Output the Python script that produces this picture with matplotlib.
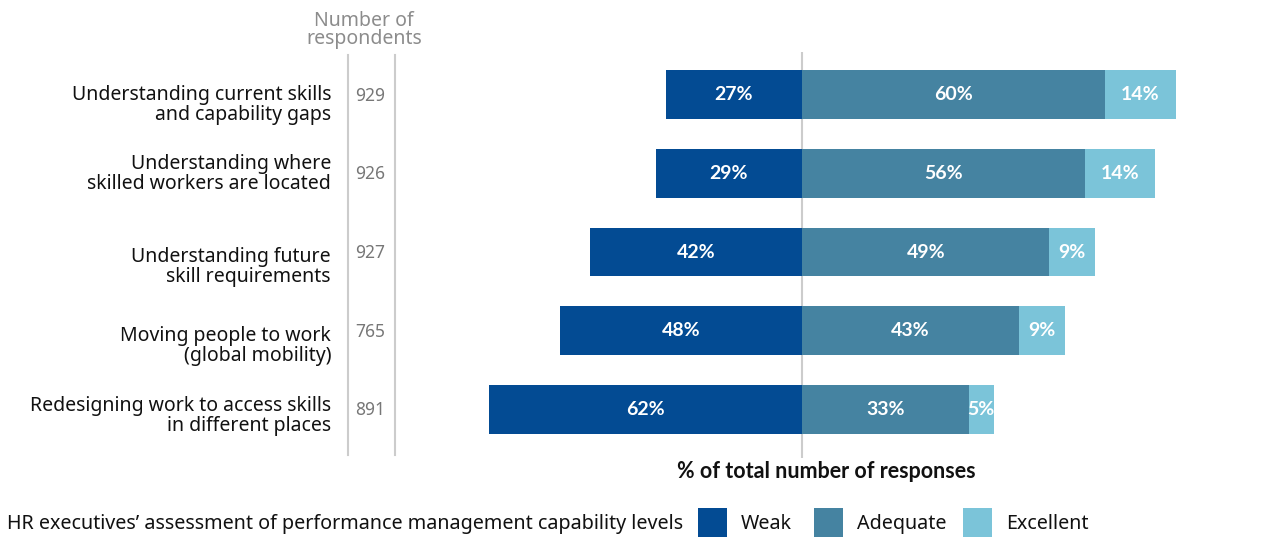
import numpy as np
import matplotlib
matplotlib.use('Agg')
import matplotlib.pyplot as plt
from matplotlib.patches import Rectangle

plt.rcParams['font.family'] = ['Noto Sans', 'DejaVu Sans']
bold_font = ['Lato', 'DejaVu Sans']

categories = ['Understanding current skills\nand capability gaps',
              'Understanding where\nskilled workers are located',
              'Understanding future\nskill requirements',
              'Moving people to work\n(global mobility)',
              'Redesigning work to access skills\nin different places']
respondents = [929, 926, 927, 765, 891]
weak = [27, 29, 42, 48, 62]
adequate = [60, 56, 49, 43, 33]
excellent = [14, 14, 9, 9, 5]

c_weak = '#034b93'
c_adeq = '#4583a1'
c_exc = '#7bc4d9'
grey = '#8c8c8c'
line_grey = '#cccccc'

W, H = 1261, 539
fig = plt.figure(figsize=(W / 100, H / 100), dpi=100)

# axes: pixel 402..1261 horizontally, 52..458 vertically
ax = fig.add_axes([402 / W, 1 - 458 / H, (W - 402) / W, 406 / H])
ax.set_xlim(-79.2, 90.9)
ax.set_ylim(4.616, -0.54)
ax.axis('off')

y = np.arange(len(categories))
h = 0.62
weak_a = np.array(weak)
adeq_a = np.array(adequate)
exc_a = np.array(excellent)

ax.barh(y, -weak_a, height=h, color=c_weak, zorder=2)
ax.barh(y, adeq_a, height=h, color=c_adeq, zorder=2)
ax.barh(y, exc_a, left=adeq_a, height=h, color=c_exc, zorder=2)
ax.axvline(0, color=line_grey, lw=1.5, zorder=1)

lab = dict(color='white', fontsize=14, fontweight='bold', family=bold_font,
           ha='center', va='center', zorder=3)
for i in range(len(y)):
    ax.text(-weak_a[i] / 2, y[i], f'{weak[i]}%', **lab)
    ax.text(adeq_a[i] / 2, y[i], f'{adequate[i]}%', **lab)
    ax.text(adeq_a[i] + exc_a[i] / 2, y[i], f'{excellent[i]}%', **lab)

# left columns: category labels, respondents count, separator lines
label_shift = [10, 1, 15, 15, 7]   # px, labels sit a little below bar centres
for i in range(len(y)):
    yy = ax.transData.transform((0, y[i]))[1] / H
    fig.text(331 / W, yy - label_shift[i] / H, categories[i], ha='right', va='center',
             fontsize=14, color='#111111', linespacing=1.0)
    fig.text(370 / W, yy - 1 / H, str(respondents[i]), ha='center', va='center',
             fontsize=12.5, color='#777777')

for xp in (348, 395):
    fig.add_artist(plt.Line2D([xp / W, xp / W], [1 - 455 / H, 1 - 55 / H],
                              color=line_grey, lw=1.5))

fig.text(364 / W, 1 - 30 / H, 'Number of\nrespondents', ha='center', va='center',
         fontsize=14, color=grey, linespacing=0.9)

fig.text(826 / W, 1 - 471 / H, '% of total number of responses', ha='center',
         va='center', fontsize=15.5, fontweight='bold', family=bold_font, color='#111111')

# legend along the bottom
fig.text(7 / W, 1 - 524 / H, 'HR executives\u2019 assessment of performance management capability levels',
         ha='left', va='center', fontsize=14.2, color='#111111')
for x0, col, name in [(698, c_weak, 'Weak'), (814, c_adeq, 'Adequate'), (963, c_exc, 'Excellent')]:
    fig.add_artist(Rectangle((x0 / W, 1 - 537 / H), 29 / W, 29 / H,
                             facecolor=col, edgecolor='none'))
    fig.text((x0 + 43) / W, 1 - 524 / H, name, ha='left', va='center',
             fontsize=14.2, color='#111111')

fig.savefig('out.png', dpi=100)
